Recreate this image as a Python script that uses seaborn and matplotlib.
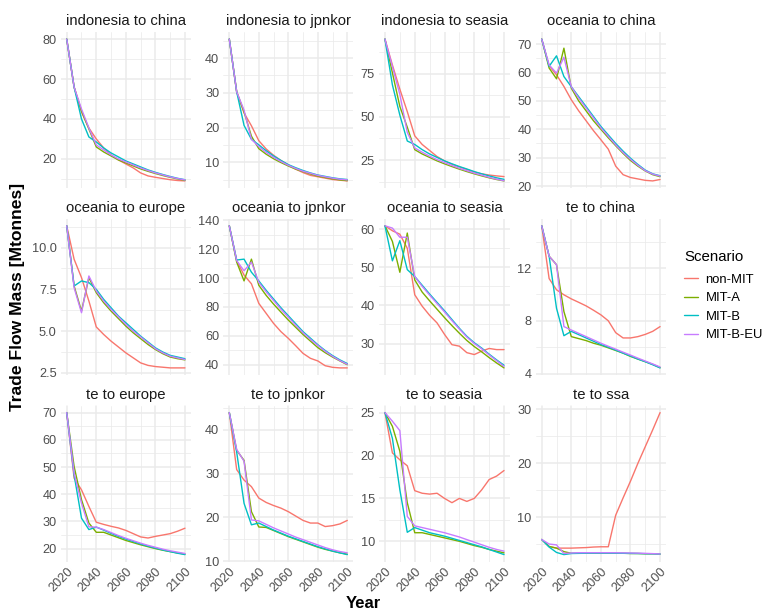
import matplotlib
matplotlib.use("Agg")
import matplotlib.pyplot as plt
import numpy as np
import pandas as pd
import seaborn as sns
from matplotlib.lines import Line2D

# ---------------------------------------------------------------- data
years = list(range(2020, 2101, 5))
scenarios = ["non-MIT", "MIT-A", "MIT-B", "MIT-B-EU"]
palette = ["#F8766D", "#7CAE00", "#00BFC4", "#C77CFF"]

indonesia_to_china = {
    "non-MIT":  [80, 56, 43.5, 35.5, 30, 25.5, 22, 19.5, 17.5, 15.5, 13, 11.5, 10.8, 10.2, 9.6, 9.2, 9.0],
    "MIT-A":    [80, 56, 44, 35, 26, 23.5, 21.5, 19.5, 18, 16.5, 15, 13.8, 12.7, 11.7, 10.8, 10.0, 9.3],
    "MIT-B":    [80, 56, 40, 31, 28.5, 25.5, 23, 21, 19, 17.5, 16, 14.5, 13.3, 12.2, 11.2, 10.3, 9.6],
    "MIT-B-EU": [80, 56, 45, 35.5, 27, 24.5, 22, 20, 18.5, 17, 15.5, 14.2, 13, 12, 11, 10.2, 9.5],
}
indonesia_to_jpnkor = {
    "non-MIT":  [45.5, 30.3, 24.2, 20.5, 16.2, 13.8, 12.0, 10.5, 9.2, 8.0, 7.0, 6.2, 5.8, 5.4, 5.0, 4.8, 4.6],
    "MIT-A":    [45.5, 30.3, 24.5, 17.5, 13.9, 12.3, 11.0, 9.9, 8.9, 8.0, 7.3, 6.6, 6.0, 5.6, 5.2, 4.9, 4.7],
    "MIT-B":    [45.5, 30.3, 20.6, 16.6, 15.0, 13.3, 11.8, 10.5, 9.3, 8.4, 7.6, 6.9, 6.3, 5.9, 5.5, 5.2, 5.0],
    "MIT-B-EU": [45.5, 30.3, 25, 16.6, 14.5, 12.8, 11.4, 10.2, 9.1, 8.2, 7.4, 6.8, 6.2, 5.8, 5.4, 5.1, 4.9],
}
indonesia_to_seasia = {
    "non-MIT":  [95, 80, 66, 53, 39, 34, 30.5, 27, 24.5, 22.5, 21, 19.5, 18, 17, 16.3, 15.8, 15.4],
    "MIT-A":    [95, 75.5, 56, 44, 31, 28.5, 26.5, 24.5, 22.8, 21.2, 19.7, 18.3, 17, 15.8, 14.7, 13.7, 12.9],
    "MIT-B":    [95, 68.5, 51, 36, 34, 31, 28.5, 26.5, 24.5, 22.8, 21.2, 19.8, 18.3, 17, 15.8, 14.7, 13.8],
    "MIT-B-EU": [95, 79, 63, 41, 32, 29.5, 27.2, 25.2, 23.5, 21.8, 20.2, 18.8, 17.4, 16.2, 15, 13.9, 13.0],
}
oceania_to_china = {
    "non-MIT":  [71.8, 62.4, 59.2, 55.1, 50.4, 46.5, 43, 39.5, 36.3, 33, 27, 24, 23, 22.5, 22, 21.8, 22.3],
    "MIT-A":    [71.8, 61.6, 57.8, 68.6, 54.5, 50, 46.5, 43, 40, 37, 34.2, 31.5, 29, 27, 25.3, 24, 23.3],
    "MIT-B":    [71.8, 62.2, 65.9, 58.6, 55, 51.5, 48, 44.5, 41, 38, 35, 32.3, 29.8, 27.6, 25.6, 24.3, 23.6],
    "MIT-B-EU": [71.8, 62.7, 59.8, 65.4, 55, 51, 47.5, 44, 40.5, 37.5, 34.5, 31.8, 29.4, 27.3, 25.4, 24.2, 23.5],
}
oceania_to_europe = {
    "non-MIT":  [11.3, 9.3, 8.2, 6.8, 5.25, 4.8, 4.4, 4.05, 3.7, 3.4, 3.1, 2.95, 2.88, 2.84, 2.8, 2.8, 2.8],
    "MIT-A":    [11.3, 7.7, 6.2, 8.2, 7.3, 6.7, 6.2, 5.75, 5.3, 4.9, 4.55, 4.2, 3.9, 3.65, 3.45, 3.35, 3.28],
    "MIT-B":    [11.3, 7.7, 8.0, 7.9, 7.5, 6.9, 6.4, 5.9, 5.5, 5.1, 4.7, 4.35, 4.0, 3.75, 3.55, 3.45, 3.35],
    "MIT-B-EU": [11.3, 7.6, 6.1, 8.3, 7.4, 6.8, 6.3, 5.85, 5.4, 5.0, 4.65, 4.3, 3.95, 3.7, 3.5, 3.4, 3.3],
}
oceania_to_jpnkor = {
    "non-MIT":  [136, 112, 102, 96, 82.5, 75.6, 68.7, 63, 58.4, 53.3, 48, 44.6, 42.8, 39.5, 38.4, 38, 38],
    "MIT-A":    [136, 111, 98, 113, 95, 88, 82, 76.5, 71, 66, 61, 56.5, 52, 48.5, 45.5, 42.8, 40.2],
    "MIT-B":    [136, 112.4, 113, 104, 98, 91.5, 85.5, 79.5, 74, 68.5, 63, 58.5, 54, 50, 46.5, 43.5, 41],
    "MIT-B-EU": [136, 112, 105, 111, 97, 90.5, 84.5, 78.5, 73, 67.5, 62.2, 57.7, 53.5, 49.5, 46, 43, 40.5],
}
oceania_to_seasia = {
    "non-MIT":  [60.9, 59.6, 58.7, 55, 42.8, 39.8, 37.4, 35.4, 32.4, 29.7, 29.3, 27.6, 27.1, 28, 28.7, 28.4, 28.4],
    "MIT-A":    [60.9, 56.8, 48.7, 59, 46.7, 43.5, 41.2, 39, 36.8, 34.7, 32.7, 30.8, 29.2, 27.8, 26.3, 24.9, 23.6],
    "MIT-B":    [60.9, 51.7, 57, 49.4, 47.6, 45.3, 43, 40.8, 38.6, 36.3, 34, 31.9, 30.2, 28.8, 27.2, 25.7, 24.3],
    "MIT-B-EU": [60.9, 60.3, 57.9, 57.9, 47.6, 45, 42.7, 40.5, 38.3, 36, 33.8, 31.7, 30.0, 28.6, 27.0, 25.5, 24.0],
}
te_to_china = {
    "non-MIT":  [15.2, 11.2, 10.35, 9.97, 9.66, 9.4, 9.13, 8.8, 8.45, 8.0, 7.1, 6.7, 6.7, 6.8, 6.97, 7.2, 7.56],
    "MIT-A":    [15.2, 12.9, 12.25, 8.7, 6.8, 6.65, 6.5, 6.3, 6.15, 5.95, 5.75, 5.55, 5.3, 5.1, 4.9, 4.7, 4.45],
    "MIT-B":    [15.2, 12.9, 8.95, 6.87, 7.2, 6.95, 6.7, 6.45, 6.2, 6.0, 5.78, 5.55, 5.33, 5.1, 4.9, 4.67, 4.43],
    "MIT-B-EU": [15.2, 12.9, 12.25, 7.56, 7.3, 7.05, 6.8, 6.55, 6.3, 6.07, 5.85, 5.62, 5.4, 5.17, 4.95, 4.73, 4.5],
}
te_to_europe = {
    "non-MIT":  [70, 45.9, 41.6, 35.5, 29.7, 28.9, 28.2, 27.6, 26.7, 25.5, 24.3, 23.9, 24.5, 25.0, 25.5, 26.4, 27.5],
    "MIT-A":    [70, 50.2, 38, 29.4, 26, 26, 25, 24, 23, 22.2, 21.4, 20.7, 20, 19.4, 18.9, 18.4, 18.0],
    "MIT-B":    [70, 47.1, 31.2, 27, 27.9, 26.8, 25.6, 24.5, 23.5, 22.6, 21.7, 20.9, 20.2, 19.5, 18.9, 18.3, 17.8],
    "MIT-B-EU": [70, 47.8, 36.7, 28, 27.9, 27, 25.9, 24.8, 23.8, 22.9, 22, 21.2, 20.5, 19.8, 19.2, 18.7, 18.2],
}
te_to_jpnkor = {
    "non-MIT":  [43.9, 30.9, 28.5, 27, 24.4, 23.4, 22.7, 22.1, 21.3, 20.3, 19.3, 18.7, 18.7, 17.9, 18.1, 18.5, 19.3],
    "MIT-A":    [43.9, 35.3, 33, 21.3, 17.8, 17.7, 17.0, 16.3, 15.6, 15.0, 14.4, 13.8, 13.2, 12.7, 12.3, 11.9, 11.6],
    "MIT-B":    [43.9, 34.9, 23.2, 18.3, 18.7, 17.9, 17.1, 16.4, 15.7, 15.1, 14.5, 13.9, 13.3, 12.8, 12.3, 11.9, 11.5],
    "MIT-B-EU": [43.9, 35.5, 32.8, 19.4, 19.2, 18.4, 17.6, 16.9, 16.2, 15.5, 14.9, 14.3, 13.7, 13.1, 12.6, 12.2, 11.9],
}
te_to_seasia = {
    "non-MIT":  [25, 20.3, 19.5, 18.8, 15.9, 15.6, 15.5, 15.6, 15.0, 14.5, 15.0, 14.65, 15.0, 16.0, 17.2, 17.6, 18.25],
    "MIT-A":    [25, 23.4, 20.5, 14.5, 11.0, 11.0, 10.8, 10.6, 10.4, 10.2, 10.0, 9.75, 9.5, 9.3, 9.05, 8.85, 8.65],
    "MIT-B":    [25, 22, 16, 11.05, 11.6, 11.3, 11.0, 10.8, 10.6, 10.35, 10.1, 9.85, 9.6, 9.35, 9.05, 8.75, 8.45],
    "MIT-B-EU": [25, 24, 22.9, 12.9, 11.8, 11.6, 11.4, 11.2, 11.0, 10.75, 10.5, 10.2, 9.9, 9.6, 9.3, 9.05, 8.85],
}
te_to_ssa = {
    "non-MIT":  [5.9, 4.6, 4.3, 4.3, 4.3, 4.35, 4.4, 4.5, 4.55, 4.55, 10.4, 13.6, 16.7, 20, 23.1, 26.2, 29.4],
    "MIT-A":    [5.9, 4.6, 4.3, 3.65, 3.35, 3.35, 3.35, 3.35, 3.35, 3.35, 3.35, 3.35, 3.3, 3.3, 3.25, 3.25, 3.2],
    "MIT-B":    [5.9, 4.5, 3.5, 3.1, 3.3, 3.33, 3.35, 3.36, 3.36, 3.36, 3.35, 3.34, 3.32, 3.3, 3.27, 3.24, 3.2],
    "MIT-B-EU": [5.9, 5.06, 4.9, 3.3, 3.4, 3.45, 3.45, 3.45, 3.45, 3.45, 3.44, 3.42, 3.4, 3.37, 3.33, 3.28, 3.22],
}

routes = [
    "indonesia to china", "indonesia to jpnkor", "indonesia to seasia", "oceania to china",
    "oceania to europe", "oceania to jpnkor", "oceania to seasia", "te to china",
    "te to europe", "te to jpnkor", "te to seasia", "te to ssa",
]
route_data = [
    indonesia_to_china, indonesia_to_jpnkor, indonesia_to_seasia, oceania_to_china,
    oceania_to_europe, oceania_to_jpnkor, oceania_to_seasia, te_to_china,
    te_to_europe, te_to_jpnkor, te_to_seasia, te_to_ssa,
]
y_breaks = [
    [20, 40, 60, 80], [10, 20, 30, 40], [25, 50, 75], [20, 30, 40, 50, 60, 70],
    [2.5, 5.0, 7.5, 10.0], [40, 60, 80, 100, 120, 140], [30, 40, 50, 60], [4, 8, 12],
    [20, 30, 40, 50, 60, 70], [10, 20, 30, 40], [10, 15, 20, 25], [10, 20, 30],
]
x_breaks = [2020, 2040, 2060, 2080, 2100]

# long table for seaborn
rows = []
for route, table in zip(routes, route_data):
    for scen in scenarios:
        for yr, val in zip(years, table[scen]):
            rows.append({"Route": route, "Scenario": scen, "Year": yr, "Mass": val})
df = pd.DataFrame(rows)

# ---------------------------------------------------------------- figure
sns.set_theme(style="white")
plt.rcParams["font.family"] = ["Liberation Sans", "DejaVu Sans"]

W, H = 767, 611
fig = plt.figure(figsize=(W / 100, H / 100), dpi=100)
fig.patch.set_facecolor("white")

col_px = [(60.8, 190.9), (223.4, 353.2), (379.0, 510.0), (535.8, 666.0)]
row_px = [(32.0, 188.0), (218.7, 375.0), (405.5, 561.7)]

GRID = "#EBEBEB"
TICK_COL = "#4D4D4D"

for i, route in enumerate(routes):
    r, c = divmod(i, 4)
    x0, x1 = col_px[c]
    y0, y1 = row_px[r]
    ax = fig.add_axes([x0 / W, 1 - y1 / H, (x1 - x0) / W, (y1 - y0) / H])
    sub = df[df["Route"] == route]
    sns.lineplot(data=sub, x="Year", y="Mass", hue="Scenario", hue_order=scenarios,
                 palette=palette, linewidth=1.0, legend=False, ax=ax)

    # 5% expansion on each side of the data range
    lo, hi = sub["Mass"].min(), sub["Mass"].max()
    pad = (hi - lo) * 0.05

    brk = y_breaks[i]
    step = brk[1] - brk[0]
    ax.set_yticks(brk)
    minor = [brk[0] - step / 2] + [b + step / 2 for b in brk]
    ax.set_yticks(minor, minor=True)
    if isinstance(brk[0], float):
        ax.set_yticklabels([f"{b:.1f}" for b in brk])
    else:
        ax.set_yticklabels([str(b) for b in brk])

    ax.set_xticks(x_breaks)
    ax.set_xticks([2010, 2030, 2050, 2070, 2090, 2110], minor=True)
    if r == 2:
        ax.set_xticklabels([str(x) for x in x_breaks], rotation=45, ha="right",
                           va="top", rotation_mode="anchor")
    else:
        ax.set_xticklabels([])

    ax.set_ylim(lo - pad, hi + pad)
    ax.set_xlim(2016, 2104)

    ax.grid(True, which="major", color=GRID, linewidth=1.1)
    ax.grid(True, which="minor", color=GRID, linewidth=0.55)
    ax.set_axisbelow(True)
    for s in ax.spines.values():
        s.set_visible(False)
    ax.tick_params(axis="both", which="both", length=0, labelsize=9.2,
                   labelcolor=TICK_COL, pad=3)
    ax.set_xlabel("")
    ax.set_ylabel("")
    ax.set_title(route, fontsize=10.7, color="#1A1A1A", pad=5)

# axis titles
fig.text(18 / W, 1 - 297 / H, "Trade Flow Mass [Mtonnes]", rotation=90,
         ha="center", va="center", fontsize=12.6, fontweight="bold", color="black")
fig.text(363 / W, 1 - 603 / H, "Year", ha="center", va="center",
         fontsize=12, fontweight="bold", color="black")

# legend: title text plus the key entries below it
fig.text(684 / W, 1 - 257 / H, "Scenario", ha="left", va="center",
         fontsize=10.8, color="black")
handles = [Line2D([0], [0], color=col, lw=1.0) for col in palette]
leg = fig.legend(handles, scenarios, loc="center left",
                 bbox_to_anchor=(684 / W, 1 - 307.6 / H), frameon=False,
                 fontsize=9.4, handlelength=1.1,
                 handletextpad=0.55, labelspacing=0.49, borderpad=0,
                 borderaxespad=0)
for t in leg.get_texts():
    t.set_color("black")

fig.savefig("out.png", dpi=100, facecolor="white")
